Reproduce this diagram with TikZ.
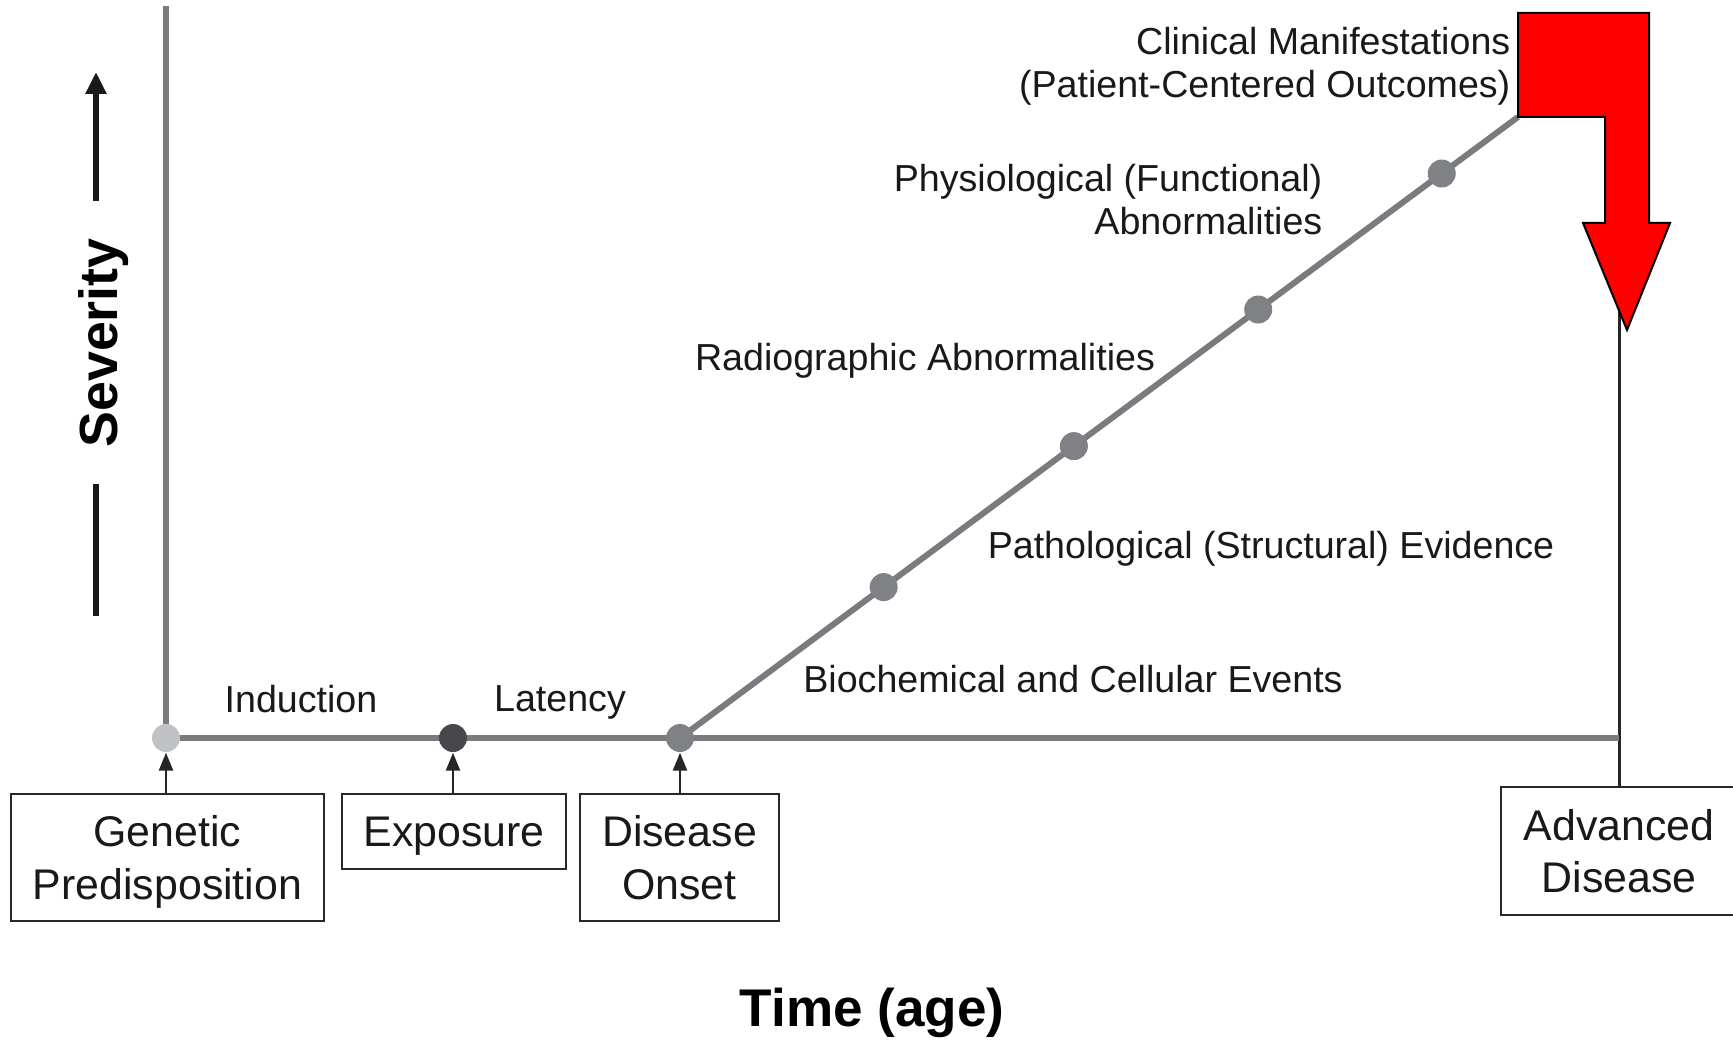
\documentclass[tikz,border=0pt]{standalone}
\usepackage{fontspec}
\setmainfont{Liberation Sans}
\usetikzlibrary{arrows.meta,calc,positioning}
\definecolor{linegray}{RGB}{122,123,127}
\definecolor{dotlight}{RGB}{192,193,197}
\definecolor{dotdark}{RGB}{72,72,76}
\definecolor{dotmid}{RGB}{128,129,133}
\definecolor{boxline}{RGB}{40,40,40}
\definecolor{arrowred}{RGB}{255,0,0}

\begin{document}
\begin{tikzpicture}[
		axis/.style={line width=0.06cm, draw=linegray},
		dot/.style={circle, inner sep=0pt, minimum size=0.28cm},
		stagebox/.style={draw=boxline, line width=0.027cm, align=center, inner sep=0pt, font=\fontsize{12.2}{14.9}\selectfont, text=black!90},
		lbl/.style={font=\fontsize{10.7}{12.5}\selectfont, text=black!90, inner sep=0pt},
		upto/.style={line width=0.025cm, draw=black!85, -{Triangle[length=0.18cm,width=0.14cm]}}]
		\useasboundingbox (0,0) rectangle (17.33,10.39);
		\coordinate (genPt) at (1.66,3.01);
		\coordinate (expoPt) at (4.53,3.01);
		\coordinate (onsetPt) at (6.80,3.01);
		\coordinate (topPt) at (15.18,9.22);
		\coordinate (axisTop) at (1.66,10.33);
		\node [stagebox, text depth=0pt, minimum width=3.13cm, minimum height=1.27cm] (genBox) at (1.675,1.815) {Genetic\\Predisposition};
		\node [stagebox, text depth=0pt, minimum width=2.24cm, minimum height=0.75cm] (expoBox) at (4.54,2.075) {Exposure};
		\node [stagebox, minimum width=1.99cm, minimum height=1.27cm] (onsetBox) at (6.795,1.815) {Disease\\Onset};
		\node [stagebox, minimum width=2.36cm, minimum height=1.28cm] (advBox) at (16.19,1.88) {Advanced\\Disease};
		\draw [line width=0.03cm, draw=black!85] (advBox.north) -- ++(0,5.0) coordinate (advTop);
		\draw [axis] (axisTop) -- (genPt);
		\draw [axis] (genPt) -- (advBox.north |- genPt);
		\draw [axis] (onsetPt) -- (topPt);
		\draw [line width=0.02cm, fill=arrowred] (topPt) -- (15.18,10.26) -- (16.49,10.26) -- (16.49,8.16) -- (16.70,8.16) -- (16.27,7.09) coordinate (tip) -- (15.83,8.16) -- (16.05,8.16) -- (16.05,9.22) -- cycle;
		\node [dot, fill=dotlight] (genDot) at (genPt) {};
		\node [dot, fill=dotdark] (expoDot) at (expoPt) {};
		\node [dot, fill=dotmid] (onsetDot) at (onsetPt) {};
		\node [dot, fill=dotmid] (bioDot) at ($(onsetPt)!0.243!(topPt)$) {};
		\node [dot, fill=dotmid] (pathDot) at ($(onsetPt)!0.470!(topPt)$) {};
		\node [dot, fill=dotmid] (radioDot) at ($(onsetPt)!0.690!(topPt)$) {};
		\node [dot, fill=dotmid] (physDot) at ($(onsetPt)!0.909!(topPt)$) {};
		\draw [upto] (genDot |- genBox.north) -- (genDot.south);
		\draw [upto] (expoDot |- expoBox.north) -- (expoDot.south);
		\draw [upto] (onsetDot |- onsetBox.north) -- (onsetDot.south);
		\node [lbl, anchor=base] (induct) at (3.01,3.27) {Induction};
		\node [lbl, anchor=base] (laten) at (5.60,3.28) {Latency};
		\node [lbl, anchor=base] (bioLbl) at (10.73,3.47) {Biochemical and Cellular Events};
		\node [lbl, anchor=base] (pathLbl) at (12.71,4.81) {Pathological (Structural) Evidence};
		\node [lbl, anchor=base] (radioLbl) at (9.25,6.68) {Radiographic Abnormalities};
		\node [lbl, anchor=base east, align=right] (physLbl) at (13.23,8.04) {Physiological (Functional)\\Abnormalities};
		\node [lbl, anchor=base east, align=right] (clinLbl) at (15.11,9.41) {Clinical Manifestations\\(Patient-Centered Outcomes)};
		\node [font=\bfseries\fontsize{15.3}{18}\selectfont, rotate=90, anchor=base, inner sep=0pt] (sev) at (1.17,6.96) {Severity};
		\coordinate (sevLow) at (0.96,4.23);
		\coordinate (sevHigh) at (0.96,9.67);
		\draw [line width=0.055cm, draw=black!90] (sevLow) -- (sevLow |- 0,5.55);
		\draw [line width=0.055cm, draw=black!90, -{Triangle[length=0.22cm,width=0.2cm]}] (sevHigh |- 0,8.38) -- (sevHigh);
		\node [font=\bfseries\fontsize{15.1}{18}\selectfont, anchor=base, inner sep=0pt] (timeLbl) at (8.72,0.13) {Time (age)};
	\end{tikzpicture}
\end{document}
